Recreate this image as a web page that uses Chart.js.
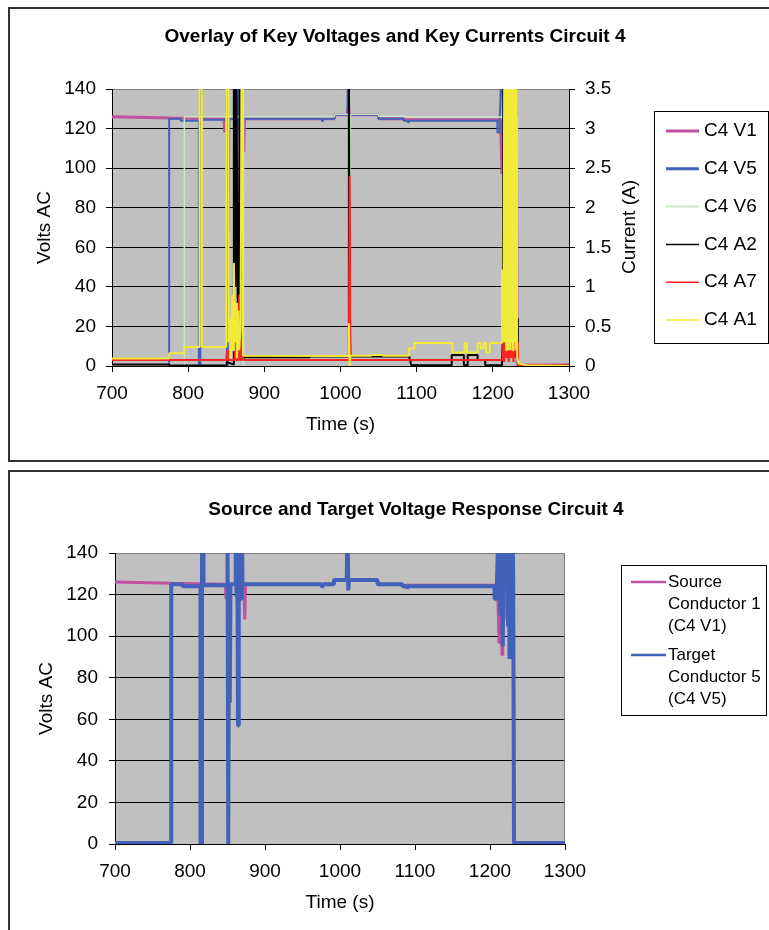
<!DOCTYPE html>
<html>
<head>
<meta charset="utf-8">
<title>Circuit 4</title>
<script src="https://cdn.jsdelivr.net/npm/chart.js@4.4.1/dist/chart.umd.min.js"></script>
<style>
  html, body { margin: 0; padding: 0; background: #fff; }
  body { width: 769px; height: 930px; position: relative; overflow: hidden; }
  canvas { position: absolute; left: 0; }
  #top { top: 0; }
  #bottom { top: 465px; }
  .frame { position: absolute; border: 2px solid #333; box-sizing: border-box; pointer-events: none; }
</style>
</head>
<body>
<canvas id="top" width="769" height="465"></canvas>
<canvas id="bottom" width="769" height="465"></canvas>
<div class="frame" style="left:8px; top:7px; width:800px; height:455px;"></div>
<div class="frame" style="left:8px; top:470px; width:800px; height:500px;"></div>
<script>
// Graduations
const timeTicks = [700, 800, 900, 1000, 1100, 1200, 1300];
const voltTicks = [0, 20, 40, 60, 80, 100, 120, 140];
const ampTicks = [0, 0.5, 1, 1.5, 2, 2.5, 3, 3.5];

// C4 V1 (tension source)
const v1Time  = [700, 776, 847, 848, 849, 862, 863, 864, 872, 873, 874, 992, 992, 1009, 1010, 1011, 1050, 1050, 1084, 1084, 1210, 1212, 1213, 1215, 1216, 1217, 1219, 1220, 1231, 1232, 1300];
const v1Volts = [126, 125.4, 125, 118, 125, 125, 114, 125, 125, 108, 125, 125, 127, 127, 131, 127, 127, 125, 125, 124.5, 124.5, 97, 124, 124, 91, 124, 108, 124, 124, 0.5, 0.5];

// C4 V5 (tension cible)
const v5Time  = [700, 775, 775, 790, 790, 814, 814, 816, 816, 818, 818, 850, 850, 851, 852, 853, 854, 860, 861, 862, 863, 864, 865, 866, 867, 868, 869, 870, 975, 976, 978, 992, 992, 1009, 1010, 1011, 1012, 1050, 1050, 1083, 1083, 1088, 1089, 1091, 1206, 1206, 1209, 1209, 1212, 1214, 1215, 1217, 1218, 1220, 1222, 1224, 1225, 1226, 1227, 1229, 1230, 1231, 1232, 1300];
const v5Volts = [0.5, 0.5, 125, 125, 124, 124, 0, 0, 160, 160, 124.5, 124.5, 160, 0, 125, 68, 125, 125, 160, 119, 160, 57, 160, 121, 160, 118, 160, 125, 125, 123.5, 125, 125, 127, 127, 160, 122, 127, 127, 125, 125, 124, 124, 123, 124, 124, 118, 118, 124, 160, 110, 160, 95, 160, 124, 160, 105, 160, 89, 160, 120, 160, 124, 0.5, 0.5];

// C4 V6
const v6Time  = [700, 795, 795, 872, 872, 873, 873, 992, 992, 1011, 1012, 1013, 1050, 1050, 1085, 1085, 1232, 1232, 1300];
const v6Volts = [0.5, 0.5, 126, 126, 0, 0, 126, 126, 127.3, 127.3, 0, 127.3, 127.3, 126.2, 126.2, 125.8, 125.8, 0.5, 0.5];

// C4 A2 (courant, A)
const a2Time = [700, 775, 776, 850, 851, 859, 860, 861, 862, 863, 864, 865, 866, 868, 869, 870, 871, 875, 960, 960, 1010, 1011, 1012, 1013, 1090, 1093, 1146, 1146, 1162, 1162, 1167, 1167, 1180, 1180, 1190, 1190, 1212, 1213, 1214, 1215, 1216, 1217, 1218, 1219, 1220, 1221, 1222, 1223, 1224, 1225, 1226, 1227, 1228, 1229, 1230, 1232, 1233, 1300];
const a2Amps = [0.02, 0.02, 0.005, 0.005, 0.05, 0.02, 4, 4, 1.0, 4, 4, 0.9, 0.2, 4, 4, 0.6, 0.1, 0.11, 0.11, 0.12, 0.12, 4, 0.7, 0.12, 0.12, 0.01, 0.01, 0.14, 0.14, 0.01, 0.01, 0.14, 0.14, 0.075, 0.075, 0.01, 0.01, 0.3, 4, 0.2, 4, 4, 0.1, 2.2, 0.3, 4, 0.25, 1.6, 0.2, 4, 0.3, 2.3, 0.2, 0.6, 0.1, 0.6, 0.005, 0.005];

// C4 A7
const a7Time = [700, 850, 851, 852, 861, 862, 863, 866, 867, 868, 870, 871, 872, 1011, 1012, 1013, 1213, 1214, 1215, 1217, 1218, 1220, 1221, 1223, 1224, 1226, 1227, 1229, 1230, 1231, 1232, 1233, 1300];
const a7Amps = [0.075, 0.075, 0.2, 0.075, 0.075, 0.4, 0.075, 0.075, 0.9, 0.075, 0.075, 1.09, 0.075, 0.075, 2.4, 0.075, 0.075, 0.35, 0.05, 0.4, 0.1, 0.3, 0.05, 0.42, 0.1, 0.38, 0.05, 0.3, 1.2, 0.1, 0.3, 0.01, 0.01];

// C4 A1
const a1Time = [700, 775, 775, 795, 795, 815, 815, 818, 818, 850, 850, 853, 853, 855, 856, 858, 859, 860, 861, 863, 864, 866, 867, 869, 870, 872, 872, 1010, 1011, 1012, 1013, 1040, 1041, 1055, 1056, 1090, 1090, 1097, 1097, 1147, 1147, 1163, 1163, 1166, 1166, 1180, 1180, 1184, 1184, 1188, 1188, 1191, 1191, 1196, 1196, 1211, 1212, 1213, 1214, 1215, 1215.5, 1216, 1216.5, 1217, 1217.5, 1218, 1218.5, 1219, 1219.5, 1220, 1220.5, 1221, 1221.5, 1222, 1222.5, 1223, 1223.5, 1224, 1224.5, 1225, 1225.5, 1226, 1226.5, 1227, 1227.5, 1228, 1228.5, 1229, 1229.5, 1230, 1230.5, 1231, 1232, 1234, 1245, 1300];
const a1Amps = [0.095, 0.095, 0.16, 0.16, 0.24, 0.24, 4, 4, 0.24, 0.24, 4, 4, 0.3, 0.6, 0.1, 0.9, 0.2, 1.3, 0.3, 0.8, 0.1, 0.7, 0.2, 0.5, 4, 4, 0.13, 0.125, 0.54, 0, 0.13, 0.13, 0.14, 0.14, 0.13, 0.13, 0.22, 0.22, 0.29, 0.29, 0.17, 0.17, 0.29, 0.29, 0.17, 0.17, 0.29, 0.29, 0.22, 0.22, 0.29, 0.29, 0.17, 0.17, 0.29, 0.29, 1.22, 0.3, 0.9, 4, 0.3, 4, 0.4, 4, 0.2, 4, 0.3, 4, 0.5, 4, 0.2, 4, 0.6, 4, 0.3, 4, 0.2, 4, 0.4, 4, 0.3, 4, 0.2, 4, 0.5, 4, 0.3, 4, 0.4, 4, 0.2, 4, 0.1, 0.03, 0.01, 0];

const FONT = "'Liberation Sans', Arial, sans-serif";
const MAGENTA = '#C050A0';
const BLUE = '#4162B8';
const PALE = '#C8E6C4';
const RED = '#FF2424';
const YELLOW = '#F2EA3A';

Chart.defaults.font.family = FONT;
Chart.defaults.font.size = 19;
Chart.defaults.color = '#000';

const toPoints = (times, values) => times.map((t, i) => ({ x: t, y: values[i] }));
const fixedTicks = list => scale => { scale.ticks = list.map(v => ({ value: v })); };

function series(label, times, values, color, width, order, axis, keyWidth) {
  return {
    label: label,
    data: toPoints(times, values),
    borderColor: color,
    borderWidth: width,
    keyWidth: keyWidth || width,
    order: order,
    yAxisID: axis || 'y',
    pointRadius: 0,
    tension: 0,
    borderJoinStyle: 'bevel',
    clip: 0
  };
}

function timeAxis() {
  return {
    type: 'linear', min: 700, max: 1300,
    afterBuildTicks: fixedTicks(timeTicks),
    afterFit: s => { s.height = 75; },
    border: { color: '#000', width: 1 },
    grid: { drawOnChartArea: false, tickLength: 6, tickColor: '#000' },
    ticks: { padding: 10, maxRotation: 0, autoSkip: false, callback: v => String(v) },
    title: { display: true, text: 'Time (s)', padding: { top: 0, bottom: 5 } }
  };
}

function voltAxis(width, titlePad, tickPad) {
  return {
    position: 'left', min: 0, max: 140,
    afterBuildTicks: fixedTicks(voltTicks),
    afterFit: s => { s.width = width; },
    border: { color: '#000', width: 1 },
    grid: {
      color: c => (c.tick && c.tick.value === 140 ? '#808080' : '#000'),
      tickLength: 6, tickColor: '#000'
    },
    ticks: { padding: tickPad, callback: v => String(v) },
    title: { display: true, text: 'Volts AC', padding: { top: titlePad, bottom: 0 } }
  };
}

function ampAxis() {
  return {
    position: 'right', min: 0, max: 3.5,
    afterBuildTicks: fixedTicks(ampTicks),
    afterFit: s => { s.width = 84; },
    border: { color: '#000', width: 1 },
    grid: { drawOnChartArea: false, tickLength: 6, tickColor: '#000' },
    ticks: { padding: 10, callback: v => String(v) }
  };
}

// Fond gris, titre, légende encadrée
const chartDecor = {
  id: 'chartDecor',
  beforeDraw(chart) {
    const { ctx, chartArea: a } = chart;
    ctx.save();
    ctx.fillStyle = '#C0C0C0';
    ctx.fillRect(a.left, a.top, a.right - a.left, a.bottom - a.top);
    ctx.restore();
  },
  beforeDatasetsDraw(chart, args, opts) {
    const { ctx, chartArea: a } = chart;
    if (!opts.grayRight) return;
    ctx.save();
    ctx.strokeStyle = '#808080';
    ctx.lineWidth = 1;
    ctx.beginPath();
    ctx.moveTo(Math.round(a.right) - 0.5, a.top);
    ctx.lineTo(Math.round(a.right) - 0.5, a.bottom);
    ctx.stroke();
    ctx.restore();
  },
  afterDraw(chart, args, opts) {
    const ctx = chart.ctx;
    ctx.save();
    ctx.fillStyle = '#000';
    ctx.font = 'bold 19px ' + FONT;
    ctx.textAlign = 'center';
    ctx.textBaseline = 'alphabetic';
    ctx.fillText(opts.title, opts.titleX, opts.titleY);

    if (opts.rightTitle) {
      const r = opts.rightTitle;
      ctx.save();
      ctx.translate(r.x, r.y);
      ctx.rotate(-Math.PI / 2);
      ctx.font = '19px ' + FONT;
      ctx.textBaseline = 'middle';
      ctx.fillText(r.text, 0, 0);
      ctx.restore();
    }

    const L = opts.legend;
    ctx.fillStyle = '#fff';
    ctx.fillRect(L.x, L.y, L.w, L.h);
    ctx.strokeStyle = '#000';
    ctx.lineWidth = 1;
    ctx.strokeRect(L.x + 0.5, L.y + 0.5, L.w, L.h);
    ctx.font = L.size + 'px ' + FONT;
    ctx.textAlign = 'left';
    ctx.textBaseline = 'middle';
    let y = L.first;
    chart.data.datasets.forEach(ds => {
      ctx.strokeStyle = ds.borderColor;
      ctx.lineWidth = ds.keyWidth;
      ctx.beginPath();
      ctx.moveTo(L.lx1, y);
      ctx.lineTo(L.lx2, y);
      ctx.stroke();
      ctx.fillStyle = '#000';
      ds.label.split('\n').forEach((s, i) => ctx.fillText(s, L.tx, y + i * L.gap));
      y += L.row;
    });
    ctx.restore();
  }
};

const baseOptions = {
  responsive: false,
  animation: false,
  devicePixelRatio: 1,
  events: []
};

new Chart(document.getElementById('top'), {
  type: 'line',
  data: {
    datasets: [
      series('C4 V1', v1Time, v1Volts, MAGENTA, 3, 6),
      series('C4 V5', v5Time, v5Volts, BLUE, 2, 5, 'y', 3),
      series('C4 V6', v6Time, v6Volts, PALE, 1.5, 4, 'y', 2),
      series('C4 A2', a2Time, a2Amps, '#000', 2, 3, 'y1', 1.5),
      series('C4 A7', a7Time, a7Amps, RED, 2, 2, 'y1', 1.5),
      series('C4 A1', a1Time, a1Amps, YELLOW, 2, 1, 'y1', 1.5)
    ]
  },
  options: {
    ...baseOptions,
    layout: { padding: { left: 0, right: 116, top: 89, bottom: 24 } },
    scales: { x: timeAxis(), y: voltAxis(112, 33, 10), y1: ampAxis() },
    plugins: {
      legend: { display: false },
      tooltip: { enabled: false },
      chartDecor: {
        title: 'Overlay of Key Voltages and Key Currents Circuit 4',
        titleX: 395, titleY: 42,
        rightTitle: { text: 'Current (A)', x: 630, y: 227 },
        legend: { x: 654, y: 111, w: 114, h: 232, lx1: 666, lx2: 699, tx: 704, first: 131, row: 37.8, gap: 22, size: 19 }
      }
    }
  },
  plugins: [chartDecor]
});

new Chart(document.getElementById('bottom'), {
  type: 'line',
  data: {
    datasets: [
      series('Source\nConductor 1\n(C4 V1)', v1Time, v1Volts, MAGENTA, 3, 2, 'y', 2.5),
      series('Target\nConductor 5\n(C4 V5)', v5Time, v5Volts, BLUE, 4, 1, 'y', 2.5)
    ]
  },
  options: {
    ...baseOptions,
    layout: { padding: { left: 0, right: 204, top: 88, bottom: 11 } },
    scales: { x: timeAxis(), y: voltAxis(115, 35, 11) },
    plugins: {
      legend: { display: false },
      tooltip: { enabled: false },
      chartDecor: {
        title: 'Source and Target Voltage Response Circuit 4',
        titleX: 416, titleY: 50,
        grayRight: true,
        legend: { x: 621, y: 100, w: 145, h: 150, lx1: 631, lx2: 666, tx: 668, first: 117, row: 73, gap: 22, size: 17 }
      }
    }
  },
  plugins: [chartDecor]
});
</script>
</body>
</html>
